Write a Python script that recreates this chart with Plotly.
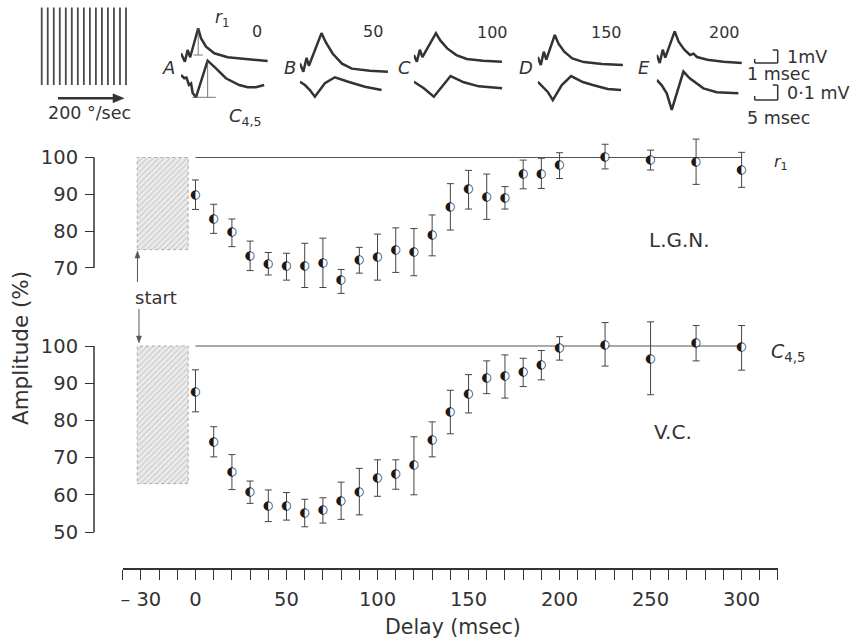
import plotly.graph_objects as go

# ---------------- data ----------------
delay = [0, 10, 20, 30, 40, 50, 60, 70, 80, 90, 100, 110, 120, 130, 140, 150,
         160, 170, 180, 190, 200, 225, 250, 275, 300]

lgn_mean = [89.8, 83.3, 79.7, 73.3, 71.2, 70.5, 70.5, 71.4, 66.6, 72.3, 72.9, 74.9, 74.3,
            79.0, 86.6, 91.4, 89.4, 89.1, 95.5, 95.5, 97.9, 100.2, 99.4, 98.9, 96.7]
lgn_upper = [93.9, 87.3, 83.3, 77.3, 74.2, 74.0, 76.7, 78.1, 69.6, 75.6, 79.2, 80.9, 80.7,
             84.4, 92.9, 96.5, 95.5, 92.1, 99.3, 99.8, 101.3, 103.6, 102.0, 105.0, 101.4]
lgn_lower = [85.9, 79.4, 75.8, 69.3, 68.1, 66.7, 64.7, 64.7, 63.1, 68.6, 66.7, 68.8, 67.9,
             73.3, 80.3, 86.0, 83.2, 86.0, 91.5, 91.6, 94.3, 96.9, 96.6, 92.7, 91.9]

vc_mean = [87.7, 74.1, 66.2, 60.7, 57.0, 57.1, 55.1, 55.9, 58.3, 60.7, 64.6, 65.5, 67.9,
           74.8, 82.3, 87.0, 91.5, 91.8, 93.0, 95.0, 99.5, 100.4, 96.6, 100.9, 99.6]
vc_upper = [93.6, 78.3, 70.8, 63.7, 61.3, 60.6, 58.8, 59.2, 63.4, 67.1, 69.4, 69.4, 75.6,
            79.6, 88.1, 92.3, 96.0, 97.6, 96.7, 98.8, 102.5, 106.3, 106.5, 105.5, 105.5]
vc_lower = [82.3, 70.2, 61.4, 57.7, 52.8, 53.2, 51.4, 52.4, 53.4, 54.6, 59.6, 61.5, 60.0,
            70.2, 76.4, 82.0, 87.2, 86.0, 89.1, 90.9, 96.2, 94.6, 86.9, 96.0, 93.5]

control_level = 100
control_span = [0, 300]
stim_window = [-32, -4]
stim_lgn_range = [75, 100]
stim_vc_range = [63, 100]

x_minor_ticks = list(range(-40, 321, 10))
x_major_ticks = [-30, 0, 50, 100, 150, 200, 250, 300]
x_major_labels = ["\u2013 30", "0", "50", "100", "150", "200", "250", "300"]
lgn_y_ticks = [70, 80, 90, 100]
vc_y_ticks = [50, 60, 70, 80, 90, 100]

panel_letters = ["A", "B", "C", "D", "E"]
panel_delays = ["0", "50", "100", "150", "200"]

r1_A_t = [0, 0.17, 0.29, 0.40, 0.75, 0.87, 1.09, 1.45, 2.03, 2.90, 3.77]
r1_A_v = [0.58, -0.05, 0.83, 0.28, 2.46, 1.71, 1.08, 0.58, 0.28, 0.13, 0]
r1_B_t = [0, 0.15, 0.29, 0.39, 0.94, 1.13, 1.43, 1.83, 2.26, 3.04, 3.83]
r1_B_v = [0.62, 0.0, 1.05, 0.45, 2.9, 2.2, 1.35, 0.6, 0.23, 0.08, 0]
r1_C_t = [0, 0.13, 0.26, 0.37, 0.96, 1.15, 1.45, 1.85, 2.3, 3.0, 3.83]
r1_C_v = [0.5, 0.0, 0.9, 0.35, 2.14, 1.6, 1.0, 0.5, 0.2, 0.08, 0]
r1_D_t = [0, 0.13, 0.26, 0.37, 0.74, 0.9, 1.15, 1.5, 2.0, 2.8, 3.7]
r1_D_v = [0.6, 0.0, 1.0, 0.4, 2.26, 1.6, 1.0, 0.5, 0.22, 0.08, 0]
r1_E_t = [0, 0.13, 0.26, 0.37, 0.78, 0.95, 1.2, 1.45, 1.6, 1.75, 2.2, 2.9, 3.7]
r1_E_v = [0.6, 0.0, 1.0, 0.4, 2.38, 1.6, 1.0, 0.6, 0.7, 0.45, 0.25, 0.1, 0]

c45_A_t = [0, 0.72, 1.2, 1.74, 2.2, 2.54, 3.26, 5.8, 7.61, 9.78, 12.67, 14.5, 16.3, 18.1]
c45_A_v = [0.067, 0.045, 0.05, 0.0, 0.01, -0.053, -0.082, 0.162, 0.111, 0.045, 0, -0.015, -0.015, 0]
c45_B_t = [0, 1.09, 2.17, 3.26, 5.43, 7.61, 10.5, 14.13, 17.76]
c45_B_v = [0.055, 0.033, 0, -0.045, 0.045, 0.085, 0.055, 0.022, 0]
c45_C_t = [0, 2.17, 4.35, 7.98, 10.87, 14.13, 19.2]
c45_C_v = [0.044, 0, -0.056, 0.082, 0.04, 0.013, 0]
c45_D_t = [0, 1.09, 2.17, 3.26, 5.22, 7.24, 9.78, 11.96, 15.2, 18.1]
c45_D_v = [0.055, 0.02, -0.013, -0.067, 0.033, 0.093, 0.053, 0.033, 0.007, 0]
c45_E_t = [0, 1.09, 2.17, 3.26, 4.35, 5.8, 7.17, 10.15, 13.04, 17.76]
c45_E_v = [0.089, 0.053, 0, -0.111, 0, 0.145, 0.1, 0.033, 0.007, 0]

r1_waves = [(r1_A_t, r1_A_v), (r1_B_t, r1_B_v), (r1_C_t, r1_C_v), (r1_D_t, r1_D_v), (r1_E_t, r1_E_v)]
c45_waves = [(c45_A_t, c45_A_v), (c45_B_t, c45_B_v), (c45_C_t, c45_C_v), (c45_D_t, c45_D_v), (c45_E_t, c45_E_v)]

# ---------------- geometry / style ----------------
W, H = 855, 640
PL, PR, PT, PB = 94, 778.3, 5, 569
INK = "#333333"
FONT = "DejaVu Sans"

LGN_PX_PER_UNIT, LGN_Y100 = 3.683, 157.5
VC_PX_PER_UNIT, VC_Y100 = 3.72, 346
LGN_RANGE = [60, 110]
VC_RANGE = [45, 110]


def fx(px):
    return (px - PL) / (PR - PL)


def fy(py):
    return (PB - py) / (PB - PT)


def ypx(v, y100, ppu):
    return y100 - (v - 100) * ppu


fig = go.Figure()

# stimulus boxes (hatched)
for yref, rng in (("y", stim_lgn_range), ("y2", stim_vc_range)):
    fig.add_trace(go.Scatter(
        x=[stim_window[0], stim_window[1], stim_window[1], stim_window[0], stim_window[0]],
        y=[rng[0], rng[0], rng[1], rng[1], rng[0]],
        mode="lines", fill="toself", fillcolor="#e6e6e6",
        fillpattern=dict(shape="/", fgcolor="#9a9a9a", bgcolor="#ececec", size=4, solidity=0.25),
        line=dict(color="#aaaaaa", width=1, dash="dot"),
        xaxis="x", yaxis=yref, hoverinfo="skip"))

# control lines
for yref in ("y", "y2"):
    fig.add_trace(go.Scatter(x=control_span, y=[control_level, control_level], mode="lines",
                             line=dict(color="#555555", width=1.2), xaxis="x", yaxis=yref,
                             hoverinfo="skip"))

# data with error bars
for yref, m, up, lo in (("y", lgn_mean, lgn_upper, lgn_lower), ("y2", vc_mean, vc_upper, vc_lower)):
    fig.add_trace(go.Scatter(
        x=delay, y=m, mode="markers+text",
        marker=dict(symbol="circle", size=7, color="white", line=dict(width=0)),
        text=["\u25D0"] * len(m), textposition="middle center",
        textfont=dict(family="DejaVu Sans", size=12, color="#1a1a1a"),
        error_y=dict(type="data", symmetric=False,
                     array=[u - v for u, v in zip(up, m)],
                     arrayminus=[v - l for v, l in zip(m, lo)],
                     color="#444444", thickness=1, width=3.5),
        xaxis="x", yaxis=yref, hoverinfo="skip"))

axis_common = dict(showgrid=False, zeroline=False, ticks="outside", tickcolor=INK, tickwidth=1.3,
                   automargin=False, tickfont=dict(family=FONT, size=19.5, color=INK))

fig.update_layout(
    width=W, height=H,
    margin=dict(l=PL, r=W - PR, t=PT, b=H - PB, pad=0),
    paper_bgcolor="white", plot_bgcolor="rgba(0,0,0,0)", showlegend=False,
    font=dict(family=FONT, color=INK),
    xaxis=dict(domain=[fx(122.7), 1], range=[-40, 320], anchor="free", position=0,
               tickvals=x_major_ticks, ticktext=x_major_labels,
               minor=dict(tickvals=x_minor_ticks, ticks="outside", ticklen=10,
                          tickcolor=INK, tickwidth=1.3, showgrid=False),
               ticklen=10, ticklabelstandoff=3, showline=True, linecolor=INK, linewidth=1.5,
               **axis_common),
    yaxis=dict(domain=[fy(ypx(LGN_RANGE[0], LGN_Y100, LGN_PX_PER_UNIT)),
                       fy(ypx(LGN_RANGE[1], LGN_Y100, LGN_PX_PER_UNIT))],
               range=LGN_RANGE, anchor="free", position=0, showline=False,
               tickvals=lgn_y_ticks, ticklen=9, ticklabelstandoff=3, **axis_common),
    yaxis2=dict(domain=[fy(ypx(VC_RANGE[0], VC_Y100, VC_PX_PER_UNIT)),
                        fy(ypx(VC_RANGE[1], VC_Y100, VC_PX_PER_UNIT))],
                range=VC_RANGE, anchor="free", position=0, showline=False,
                tickvals=vc_y_ticks, ticklen=9, ticklabelstandoff=3, **axis_common),
)

shapes = []
# y-axis spines spanning only the ticked range
for yref, ticks in (("y", lgn_y_ticks), ("y2", vc_y_ticks)):
    shapes.append(dict(type="line", xref="paper", yref=yref, x0=0, x1=0,
                       y0=min(ticks), y1=max(ticks), line=dict(color=INK, width=1.5)))

# ---------------- inset recordings ----------------
panel_x0 = [181, 300, 414, 538, 657]
r1_base = [61, 71.7, 61.7, 65, 63]
c_base = [85, 90, 88.3, 90, 93.3]
R1_PX_MS, R1_PX_MV = 23, 13.3
C_PX_MS, C_PX_MV = 4.6, 150
SPAN = 95

n = 3
inset_refs = []
for i in range(5):
    x0 = panel_x0[i]
    for (t, v), base, pms, pmv, up_px, dn_px in (
            (r1_waves[i], r1_base[i], R1_PX_MS, R1_PX_MV, 45, 8),
            (c45_waves[i], c_base[i], C_PX_MS, C_PX_MV, 30, 22)):
        fig.update_layout(**{
            f"xaxis{n}": dict(domain=[fx(x0), fx(x0 + SPAN)], range=[0, SPAN / pms],
                              visible=False, anchor=f"y{n}"),
            f"yaxis{n}": dict(domain=[fy(base + dn_px), fy(base - up_px)],
                              range=[-dn_px / pmv, up_px / pmv], visible=False, anchor=f"x{n}"),
        })
        fig.add_trace(go.Scatter(x=t, y=v, mode="lines", xaxis=f"x{n}", yaxis=f"y{n}",
                                 line=dict(color="#333333", width=2.5), hoverinfo="skip",
                                 cliponaxis=False))
        inset_refs.append((f"x{n}", f"y{n}", t, v))
        n += 1

# measurement marks on panel A
xr, yr, t, v = inset_refs[0]
k = v.index(max(v))
shapes.append(dict(type="line", xref=xr, yref=yr, x0=t[k], x1=t[k], y0=v[k], y1=0.45,
                   line=dict(color="#555", width=0.8)))
shapes.append(dict(type="line", xref=xr, yref=yr, x0=t[k] - 0.2, x1=t[k] + 0.2, y0=0.45, y1=0.45,
                   line=dict(color="#555", width=0.8)))
xr, yr, t, v = inset_refs[1]
k = v.index(max(v))
j = v.index(min(v))
shapes.append(dict(type="line", xref=xr, yref=yr, x0=t[k], x1=t[k], y0=v[k], y1=v[j],
                   line=dict(color="#555", width=0.8)))
shapes.append(dict(type="line", xref=xr, yref=yr, x0=t[j] - 0.8, x1=t[k] + 1.8, y0=v[j], y1=v[j],
                   line=dict(color="#555", width=0.8)))
shapes.append(dict(type="line", xref=xr, yref=yr, x0=t[j], x1=t[j], y0=v[j], y1=v[j] + 0.02,
                   line=dict(color="#555", width=0.8)))

# grating stimulus
n_bars = 15
for b in range(n_bars):
    gx = 41.7 + b * (126 - 41.7) / (n_bars - 1)
    shapes.append(dict(type="line", xref="paper", yref="paper", x0=fx(gx), x1=fx(gx),
                       y0=fy(85), y1=fy(7.5), line=dict(color="#4a4a4a", width=1.8)))


# scale bars
def bracket(xl, xr_, ytop, ybot):
    out = []
    for (a, b, c, d) in ((xl, ybot, xr_, ybot), (xr_, ybot, xr_, ytop), (xr_ - 5, ytop, xr_, ytop),
                         (xl, ybot, xl, ybot - 4)):
        out.append(dict(type="line", xref="paper", yref="paper", x0=fx(a), y0=fy(b), x1=fx(c), y1=fy(d),
                        line=dict(color="#333", width=1.5)))
    return out


shapes += bracket(755, 778, 50, 63)
shapes += bracket(755, 778, 85, 100)


# arrows drawn as shapes (shaft + triangular head)
def arrow(x_tail, y_tail, x_tip, y_tip, width, head_len, head_half, color):
    dx, dy = x_tip - x_tail, y_tip - y_tail
    length = (dx * dx + dy * dy) ** 0.5
    ux, uy = dx / length, dy / length
    bx, by = x_tip - ux * head_len, y_tip - uy * head_len
    out = [dict(type="line", xref="paper", yref="paper", x0=fx(x_tail), y0=fy(y_tail),
                x1=fx(bx + ux * 1), y1=fy(by + uy * 1), line=dict(color=color, width=width))]
    p1 = (bx - uy * head_half, by + ux * head_half)
    p2 = (bx + uy * head_half, by - ux * head_half)
    path = (f"M {fx(x_tip)},{fy(y_tip)} L {fx(p1[0])},{fy(p1[1])} "
            f"L {fx(p2[0])},{fy(p2[1])} Z")
    out.append(dict(type="path", xref="paper", yref="paper", path=path,
                    fillcolor=color, line=dict(color=color, width=0.5)))
    return out


shapes += arrow(58, 98.3, 124, 98.3, 2.6, 11, 4.5, "#333")
shapes += arrow(137.5, 282, 137.5, 251, 1, 7, 2.5, "#555")
shapes += arrow(139, 309, 139, 343, 1, 7, 2.5, "#555")
fig.update_layout(shapes=shapes)

ann = []


def label(px, py, text, size=18, xanchor="center", angle=0):
    ann.append(dict(x=fx(px), y=fy(py), xref="paper", yref="paper", text=text, showarrow=False,
                    xanchor=xanchor, yanchor="middle", textangle=angle,
                    font=dict(family=FONT, size=size, color=INK)))


# inset labels
letter_pos = [(169, 68), (290, 68), (405, 68), (526, 67), (644, 67)]
delay_pos = [(257, 32), (373, 32), (493, 33), (607, 33), (725, 33)]
for i in range(5):
    label(*letter_pos[i], f"<i>{panel_letters[i]}</i>", size=18)
    label(*delay_pos[i], panel_delays[i], size=16)
label(223, 18, "<i>r</i><sub>1</sub>", size=17)
label(246, 117, "<i>C</i><sub>4,5</sub>", size=18)
label(89, 113, "200 \u00b0/sec", size=17.5)
label(785, 57, "1mV", size=17.5, xanchor="left")
label(745, 74, "1 msec", size=17.5, xanchor="left")
label(785, 93, "0\u00b71 mV", size=17.5, xanchor="left")
label(745, 118, "5 msec", size=17.5, xanchor="left")

# main labels
label(680, 240, "L.G.N.", size=20)
label(673, 432, "V.C.", size=20)
label(781, 162, "<i>r</i><sub>1</sub>", size=16)
label(788, 352, "<i>C</i><sub>4,5</sub>", size=19)
label(453, 627, "Delay (msec)", size=20.5)
label(20, 348, "Amplitude (%)", size=21.5, angle=-90)
label(156, 297, "start", size=18)
fig.update_layout(annotations=ann)

fig.write_html("out.html", config={"displayModeBar": False},
               post_script="document.body.style.margin='0';")
